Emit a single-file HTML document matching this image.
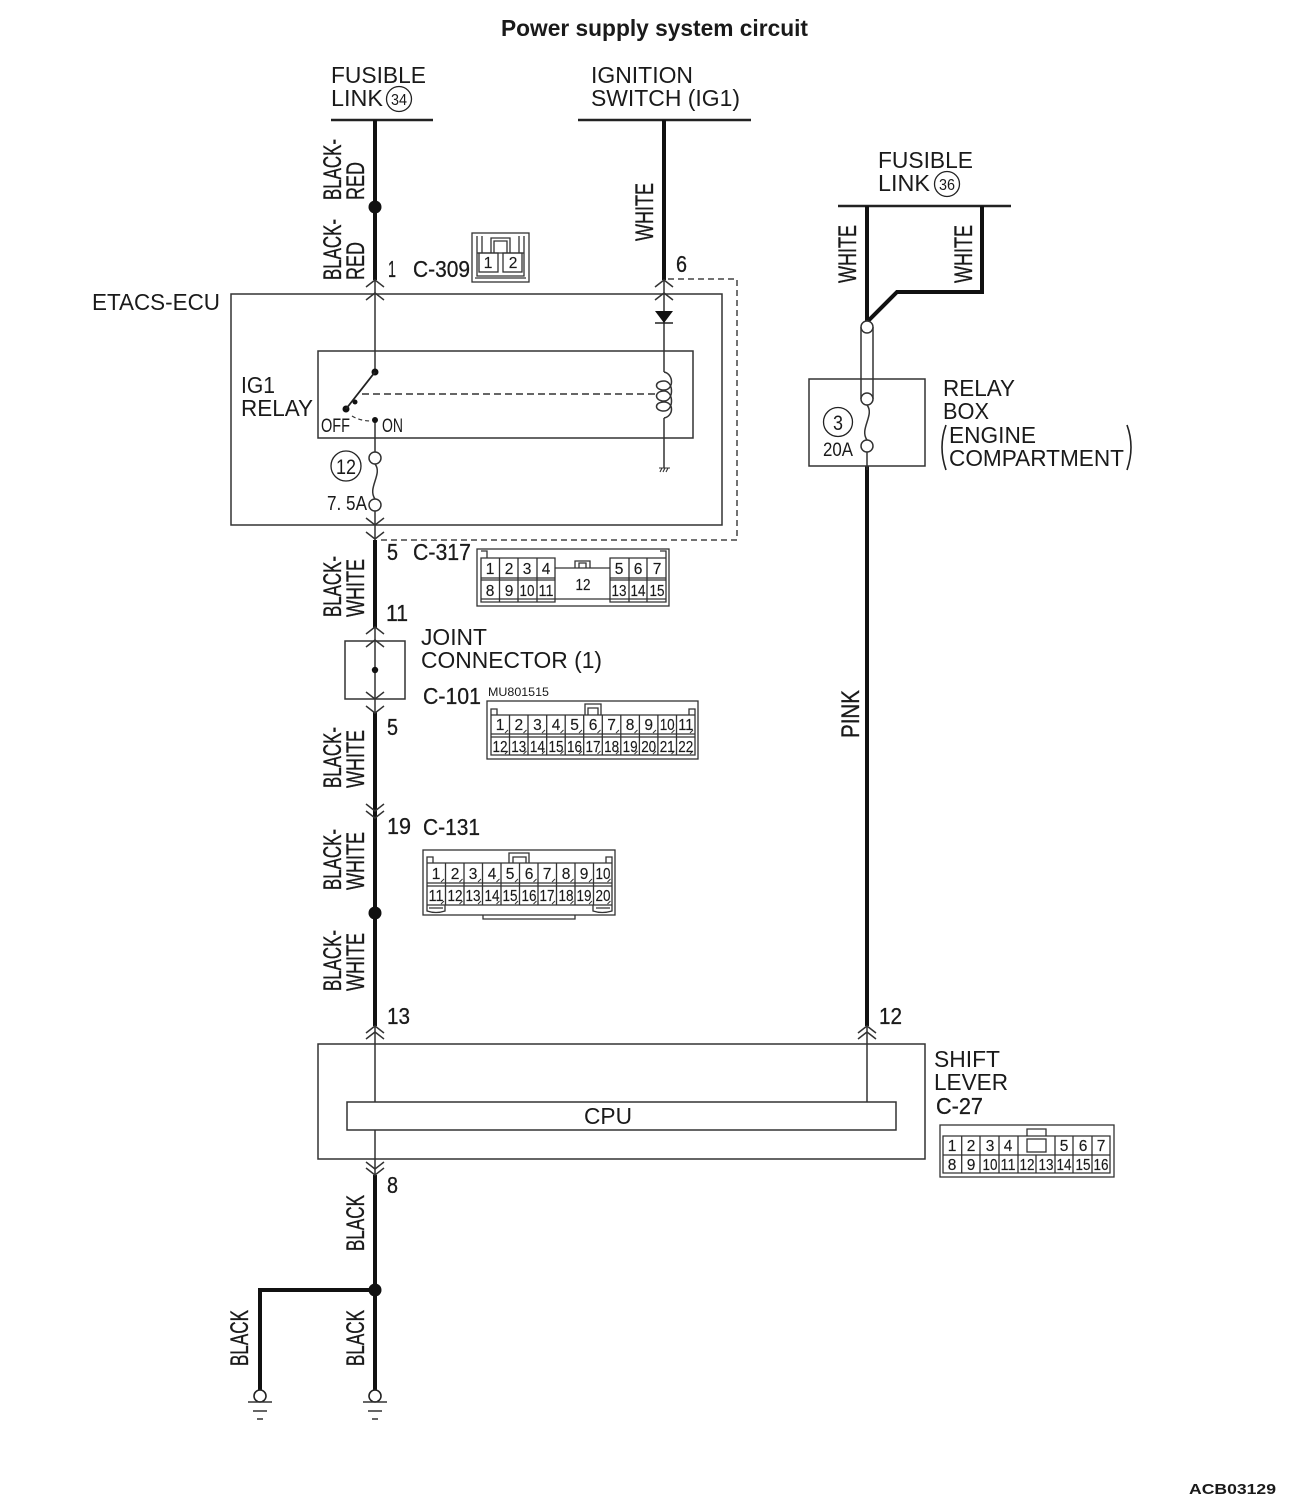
<!DOCTYPE html>
<html>
<head>
<meta charset="utf-8">
<style>
html,body{margin:0;padding:0;background:#fff}
svg{display:block}
text{font-family:"Liberation Sans",sans-serif;fill:#1a1a1a}
.l{font-size:23px}
.w{font-size:25px;stroke:#1a1a1a;stroke-width:.35px}
.n{font-size:23px;stroke:#1a1a1a;stroke-width:.3px}
.c{font-size:15.5px;text-anchor:middle;stroke:#1a1a1a;stroke-width:.15px}
.thin{fill:none;stroke:#333;stroke-width:1.5}
.box{fill:none;stroke:#333;stroke-width:1.5}
.thick{fill:none;stroke:#111;stroke-width:4}
.g{fill:none;stroke:#333;stroke-width:1.3}
</style>
</head>
<body>
<svg width="1300" height="1506" viewBox="0 0 1300 1506" xmlns="http://www.w3.org/2000/svg">
<rect width="1300" height="1506" fill="#fff"/>

<!-- Title -->
<text x="501" y="36" font-size="23" font-weight="bold" textLength="307" lengthAdjust="spacingAndGlyphs">Power supply system circuit</text>
<text x="1189" y="1494" font-size="15" font-weight="bold" textLength="87" lengthAdjust="spacingAndGlyphs">ACB03129</text>

<!-- Header bars -->
<path d="M331 120H433M578 120H751M838 206H1011" fill="none" stroke="#222" stroke-width="2.5"/>

<!-- Thick wires -->
<path class="thick" d="M375 120V280M664 120V280M375 540V628M375 712V812M375 812V1026M867 206V322L897 292H982V206M867 466V1026M375 1175V1390M375 1290H260V1390"/>
<circle cx="375" cy="207" r="6.5" fill="#111"/>
<circle cx="375" cy="913" r="6.5" fill="#111"/>
<circle cx="375" cy="1290" r="6.5" fill="#111"/>

<!-- Boxes -->
<rect class="box" x="231" y="294" width="491" height="231"/>
<rect class="box" x="318" y="351" width="375" height="87"/>
<rect class="box" x="345" y="641" width="60" height="58"/>
<rect class="box" x="809" y="379" width="116" height="87"/>
<rect class="box" x="318" y="1044" width="607" height="115"/>
<rect x="347" y="1102" width="549" height="28" fill="#fff" stroke="#333" stroke-width="1.5"/>

<!-- Thin wires -->
<path class="thin" d="M375 280V372M375 418V452M375 511V540M664 280V372M664 418V468M375 627V712M375 1026V1102M867 1026V1102M375 1130V1175M867 452V470"/>

<!-- Chevrons -->
<path class="thin" d="M366 287L375 280L384 287M366 300L375 293L384 300M655 287L664 280L673 287M655 300L664 293L673 300
M366 518L375 525L384 518M366 532L375 539L384 532
M366 634L375 627L384 634M366 647L375 640L384 647
M366 692L375 699L384 692M366 706L375 713L384 706
M366 804L375 811L384 804M366 811L375 818L384 811
M366 1033L375 1026L384 1033M366 1039L375 1032L384 1039
M858 1033L867 1026L876 1033M858 1039L867 1032L876 1039
M366 1162L375 1169L384 1162M366 1168L375 1175L384 1168"/>

<!-- Relay -->
<circle cx="375" cy="372" r="3.5" fill="#111"/>
<circle cx="346" cy="409" r="3.5" fill="#111"/>
<circle cx="355" cy="402" r="2.5" fill="#111"/>
<circle cx="375" cy="420" r="3" fill="#111"/>
<circle cx="375" cy="670" r="3.2" fill="#111"/>
<path d="M375 372L346 409" fill="none" stroke="#222" stroke-width="1.8"/>
<path d="M362 394H656" fill="none" stroke="#333" stroke-width="1.5" stroke-dasharray="7 4"/>
<path d="M352 416Q360 421 372 421" fill="none" stroke="#333" stroke-width="1.2" stroke-dasharray="4 3"/>

<!-- Coil -->
<path class="thin" d="M664 372C674 374 674 390 664 390C654 390 654 381 664 381C674 381 674 401 664 401C654 401 654 391 664 391C674 391 674 411 664 411C654 411 654 402 664 402C674 402 674 416 664 418"/>
<!-- Diode -->
<path d="M655 311H673L664 323Z" fill="#111"/>
<path d="M655 323H673" stroke="#222" stroke-width="1.5"/>
<!-- chassis ground -->
<path d="M659 468H670M660 472L662 468M663 472L665 468M666 472L668 468" fill="none" stroke="#333" stroke-width="1.1"/>

<!-- Fuses -->
<circle cx="375" cy="458" r="6" fill="#fff" stroke="#333" stroke-width="1.5"/>
<circle cx="375" cy="505" r="6" fill="#fff" stroke="#333" stroke-width="1.5"/>
<path class="thin" d="M375 464C383 474 367 488 375 499"/>
<path class="thin" d="M861 327V399M873 327V399"/>
<circle cx="867" cy="327" r="6" fill="#fff" stroke="#333" stroke-width="1.5"/>
<circle cx="867" cy="399" r="6" fill="#fff" stroke="#333" stroke-width="1.5"/>
<circle cx="867" cy="446" r="6" fill="#fff" stroke="#333" stroke-width="1.5"/>
<path class="thin" d="M867 405C875 415 859 429 867 440"/>

<!-- Dashed shield -->
<path d="M668 279H737V540H381" fill="none" stroke="#444" stroke-width="1.5" stroke-dasharray="6 4"/>

<!-- Grounds -->
<circle cx="260" cy="1396" r="6" fill="#fff" stroke="#222" stroke-width="1.6"/>
<circle cx="375" cy="1396" r="6" fill="#fff" stroke="#222" stroke-width="1.6"/>
<path d="M248 1402H272M253 1411H267M257 1419H263M363 1402H387M368 1411H382M372 1419H378" fill="none" stroke="#333" stroke-width="1.4"/>

<!-- Circled numbers -->
<circle cx="399" cy="99" r="12.5" fill="none" stroke="#222" stroke-width="1.3"/>
<text x="399" y="105" font-size="16" text-anchor="middle" textLength="16" lengthAdjust="spacingAndGlyphs">34</text>
<circle cx="947" cy="184" r="12.5" fill="none" stroke="#222" stroke-width="1.3"/>
<text x="947" y="190" font-size="16" text-anchor="middle" textLength="16" lengthAdjust="spacingAndGlyphs">36</text>
<circle cx="346" cy="466" r="15" fill="none" stroke="#222" stroke-width="1.3"/>
<text x="346" y="474" font-size="21" text-anchor="middle" textLength="20" lengthAdjust="spacingAndGlyphs">12</text>
<circle cx="838" cy="422" r="14.5" fill="none" stroke="#222" stroke-width="1.3"/>
<text x="838" y="430" font-size="21" text-anchor="middle" textLength="10" lengthAdjust="spacingAndGlyphs">3</text>

<!-- Horizontal labels -->
<text class="l" x="331" y="83" textLength="95" lengthAdjust="spacingAndGlyphs">FUSIBLE</text>
<text class="l" x="331" y="106" textLength="52" lengthAdjust="spacingAndGlyphs">LINK</text>
<text class="l" x="591" y="83" textLength="102" lengthAdjust="spacingAndGlyphs">IGNITION</text>
<text class="l" x="591" y="106" textLength="149" lengthAdjust="spacingAndGlyphs">SWITCH (IG1)</text>
<text class="l" x="878" y="168" textLength="95" lengthAdjust="spacingAndGlyphs">FUSIBLE</text>
<text class="l" x="878" y="191" textLength="52" lengthAdjust="spacingAndGlyphs">LINK</text>
<text class="l" x="92" y="310" textLength="128" lengthAdjust="spacingAndGlyphs">ETACS-ECU</text>
<text class="l" x="241" y="393" textLength="34" lengthAdjust="spacingAndGlyphs">IG1</text>
<text class="l" x="241" y="416" textLength="72" lengthAdjust="spacingAndGlyphs">RELAY</text>
<text x="321" y="432" font-size="19" textLength="29" lengthAdjust="spacingAndGlyphs">OFF</text>
<text x="382" y="432" font-size="19" textLength="21" lengthAdjust="spacingAndGlyphs">ON</text>
<text x="327" y="510" font-size="20" textLength="40" lengthAdjust="spacingAndGlyphs">7. 5A</text>
<text x="823" y="456" font-size="19" textLength="30" lengthAdjust="spacingAndGlyphs">20A</text>
<text class="l" x="943" y="396" textLength="72" lengthAdjust="spacingAndGlyphs">RELAY</text>
<text class="l" x="943" y="419" textLength="46" lengthAdjust="spacingAndGlyphs">BOX</text>
<text class="l" x="949" y="443" textLength="87" lengthAdjust="spacingAndGlyphs">ENGINE</text>
<text class="l" x="949" y="466" textLength="175" lengthAdjust="spacingAndGlyphs">COMPARTMENT</text>
<path d="M946 425Q938 447 946 470M1127 425Q1135 447 1127 470" fill="none" stroke="#222" stroke-width="1.6"/>
<text class="l" x="421" y="645" textLength="66" lengthAdjust="spacingAndGlyphs">JOINT</text>
<text class="l" x="421" y="668" textLength="181" lengthAdjust="spacingAndGlyphs">CONNECTOR (1)</text>
<text x="488" y="696" font-size="12" textLength="61" lengthAdjust="spacingAndGlyphs">MU801515</text>
<text class="l" x="934" y="1067" textLength="66" lengthAdjust="spacingAndGlyphs">SHIFT</text>
<text class="l" x="934" y="1090" textLength="74" lengthAdjust="spacingAndGlyphs">LEVER</text>
<text class="l" x="584" y="1124" textLength="48" lengthAdjust="spacingAndGlyphs">CPU</text>

<!-- Pin numbers & connector names -->
<text class="n" x="388" y="277" textLength="8" lengthAdjust="spacingAndGlyphs">1</text>
<text class="n" x="413" y="277" textLength="57" lengthAdjust="spacingAndGlyphs">C-309</text>
<text class="n" x="676" y="272" textLength="11" lengthAdjust="spacingAndGlyphs">6</text>
<text class="n" x="387" y="560" textLength="11" lengthAdjust="spacingAndGlyphs">5</text>
<text class="n" x="413" y="560" textLength="58" lengthAdjust="spacingAndGlyphs">C-317</text>
<text class="n" x="386" y="621" textLength="22" lengthAdjust="spacingAndGlyphs">11</text>
<text class="n" x="423" y="704" textLength="58" lengthAdjust="spacingAndGlyphs">C-101</text>
<text class="n" x="387" y="735" textLength="11" lengthAdjust="spacingAndGlyphs">5</text>
<text class="n" x="387" y="834" textLength="24" lengthAdjust="spacingAndGlyphs">19</text>
<text class="n" x="423" y="835" textLength="57" lengthAdjust="spacingAndGlyphs">C-131</text>
<text class="n" x="387" y="1024" textLength="23" lengthAdjust="spacingAndGlyphs">13</text>
<text class="n" x="879" y="1024" textLength="23" lengthAdjust="spacingAndGlyphs">12</text>
<text class="n" x="387" y="1193" textLength="11" lengthAdjust="spacingAndGlyphs">8</text>
<text class="n" x="936" y="1114" textLength="47" lengthAdjust="spacingAndGlyphs">C-27</text>

<!-- Rotated wire labels -->
<text class="w" transform="translate(341,200) rotate(-90)" textLength="61" lengthAdjust="spacingAndGlyphs">BLACK-</text>
<text class="w" transform="translate(364,200) rotate(-90)" textLength="38" lengthAdjust="spacingAndGlyphs">RED</text>
<text class="w" transform="translate(341,280) rotate(-90)" textLength="61" lengthAdjust="spacingAndGlyphs">BLACK-</text>
<text class="w" transform="translate(364,280) rotate(-90)" textLength="38" lengthAdjust="spacingAndGlyphs">RED</text>
<text class="w" transform="translate(653,241) rotate(-90)" textLength="58" lengthAdjust="spacingAndGlyphs">WHITE</text>
<text class="w" transform="translate(856,283) rotate(-90)" textLength="58" lengthAdjust="spacingAndGlyphs">WHITE</text>
<text class="w" transform="translate(972,283) rotate(-90)" textLength="58" lengthAdjust="spacingAndGlyphs">WHITE</text>
<text class="w" transform="translate(341,617) rotate(-90)" textLength="61" lengthAdjust="spacingAndGlyphs">BLACK-</text>
<text class="w" transform="translate(364,617) rotate(-90)" textLength="58" lengthAdjust="spacingAndGlyphs">WHITE</text>
<text class="w" transform="translate(341,788) rotate(-90)" textLength="61" lengthAdjust="spacingAndGlyphs">BLACK-</text>
<text class="w" transform="translate(364,788) rotate(-90)" textLength="58" lengthAdjust="spacingAndGlyphs">WHITE</text>
<text class="w" transform="translate(341,890) rotate(-90)" textLength="61" lengthAdjust="spacingAndGlyphs">BLACK-</text>
<text class="w" transform="translate(364,890) rotate(-90)" textLength="58" lengthAdjust="spacingAndGlyphs">WHITE</text>
<text class="w" transform="translate(341,991) rotate(-90)" textLength="61" lengthAdjust="spacingAndGlyphs">BLACK-</text>
<text class="w" transform="translate(364,991) rotate(-90)" textLength="58" lengthAdjust="spacingAndGlyphs">WHITE</text>
<text class="w" transform="translate(859,738) rotate(-90)" textLength="48" lengthAdjust="spacingAndGlyphs">PINK</text>
<text class="w" transform="translate(364,1251) rotate(-90)" textLength="56" lengthAdjust="spacingAndGlyphs">BLACK</text>
<text class="w" transform="translate(364,1366) rotate(-90)" textLength="56" lengthAdjust="spacingAndGlyphs">BLACK</text>
<text class="w" transform="translate(248,1366) rotate(-90)" textLength="56" lengthAdjust="spacingAndGlyphs">BLACK</text>

<!-- C-309 connector -->
<rect class="g" x="472" y="233" width="57" height="49"/>
<path class="g" d="M477 236V253M482 236V253M519 236V253M524 236V253M491 253V238H510V253M494 253V241H507V253M477 253H524V276H477ZM475 278H526"/>
<rect class="g" x="479" y="253" width="19" height="19"/>
<rect class="g" x="503" y="253" width="19" height="19"/>
<text class="c" x="488" y="268" font-size="15">1</text>
<text class="c" x="513" y="268" font-size="15">2</text>

<!-- C-317 connector -->
<rect class="g" x="477" y="549" width="192" height="57"/>
<path class="g" d="M481 558H555V602H481ZM610 558H666V602H610ZM481 578H555M481 580H555M610 578H666M610 580H666M499.5 558V602M518 558V602M537 558V602M629 558V602M647 558V602M555 568H610M481 599H666M575 568V561H590V568M579 568V563H586V568M481 551H487V558M660 551H666V558"/>
<text class="c" x="490" y="574">1</text><text class="c" x="509" y="574">2</text><text class="c" x="527" y="574">3</text><text class="c" x="546" y="574">4</text>
<text class="c" x="619" y="574">5</text><text class="c" x="638" y="574">6</text><text class="c" x="657" y="574">7</text>
<text class="c" x="490" y="596">8</text><text class="c" x="509" y="596">9</text>
<text class="c" x="527" y="596" textLength="15" lengthAdjust="spacingAndGlyphs">10</text><text class="c" x="546" y="596" textLength="15" lengthAdjust="spacingAndGlyphs">11</text>
<text class="c" x="583" y="590" textLength="15" lengthAdjust="spacingAndGlyphs">12</text>
<text class="c" x="619" y="596" textLength="15" lengthAdjust="spacingAndGlyphs">13</text><text class="c" x="638" y="596" textLength="15" lengthAdjust="spacingAndGlyphs">14</text><text class="c" x="657" y="596" textLength="15" lengthAdjust="spacingAndGlyphs">15</text>

<!-- C-101 connector -->
<rect class="g" x="487" y="701" width="211" height="58"/>
<path class="g" d="M491 715H695V755H491ZM491 734H695M491 737H695M509.5 715V755M528 715V755M546.7 715V755M565.2 715V755M583.7 715V755M602.3 715V755M620.8 715V755M639.4 715V755M657.9 715V755M676.5 715V755M585 715V704H601V715M588 715V708H598V715M491 715V709H497V715M689 715V709H695V715"/>
<path fill="none" stroke="#333" stroke-width="1" d="M508 730l-3 3M526.5 730l-3 3M545 730l-3 3M563.5 730l-3 3M582 730l-3 3M600.5 730l-3 3M619 730l-3 3M637.5 730l-3 3M656 730l-3 3M674.5 730l-3 3M693 730l-3 3M508 751l-3 3M526.5 751l-3 3M545 751l-3 3M563.5 751l-3 3M582 751l-3 3M600.5 751l-3 3M619 751l-3 3M637.5 751l-3 3M656 751l-3 3M674.5 751l-3 3M693 751l-3 3"/>
<text class="c" x="500" y="730">1</text><text class="c" x="518.800" y="730">2</text><text class="c" x="537.400" y="730">3</text><text class="c" x="556" y="730">4</text><text class="c" x="574.500" y="730">5</text><text class="c" x="593" y="730">6</text><text class="c" x="611.600" y="730">7</text><text class="c" x="630.100" y="730">8</text><text class="c" x="648.700" y="730">9</text>
<text class="c" x="667.200" y="730" textLength="15" lengthAdjust="spacingAndGlyphs">10</text><text class="c" x="685.800" y="730" textLength="15" lengthAdjust="spacingAndGlyphs">11</text>
<text class="c" x="500" y="752" textLength="15" lengthAdjust="spacingAndGlyphs">12</text><text class="c" x="518.800" y="752" textLength="15" lengthAdjust="spacingAndGlyphs">13</text><text class="c" x="537.400" y="752" textLength="15" lengthAdjust="spacingAndGlyphs">14</text><text class="c" x="556" y="752" textLength="15" lengthAdjust="spacingAndGlyphs">15</text><text class="c" x="574.500" y="752" textLength="15" lengthAdjust="spacingAndGlyphs">16</text><text class="c" x="593" y="752" textLength="15" lengthAdjust="spacingAndGlyphs">17</text><text class="c" x="611.600" y="752" textLength="15" lengthAdjust="spacingAndGlyphs">18</text><text class="c" x="630.100" y="752" textLength="15" lengthAdjust="spacingAndGlyphs">19</text><text class="c" x="648.700" y="752" textLength="15" lengthAdjust="spacingAndGlyphs">20</text><text class="c" x="667.200" y="752" textLength="15" lengthAdjust="spacingAndGlyphs">21</text><text class="c" x="685.800" y="752" textLength="15" lengthAdjust="spacingAndGlyphs">22</text>

<!-- C-131 connector -->
<rect class="g" x="423" y="850" width="192" height="65"/>
<path class="g" d="M427 863H612V905H427ZM427 883H612M427 886H612M445.500 863V905M464 863V905M482.500 863V905M501 863V905M519.500 863V905M538 863V905M556.500 863V905M575 863V905M593.500 863V905M509 863V853H529V863M513 863V857H526V863M427 863V857H433V863M606 863V857H612V863M427 905V911Q436 914 445 911V905M593 905V911Q602 914 612 911V905M429 908H443M596 908H610M483 915V919H575V915"/>
<path fill="none" stroke="#333" stroke-width="1" d="M444 879l-3 3M462.500 879l-3 3M481 879l-3 3M499.500 879l-3 3M518 879l-3 3M536.500 879l-3 3M555 879l-3 3M573.500 879l-3 3M592 879l-3 3M610.500 879l-3 3M444 901l-3 3M462.500 901l-3 3M481 901l-3 3M499.500 901l-3 3M518 901l-3 3M536.500 901l-3 3M555 901l-3 3M573.500 901l-3 3M592 901l-3 3M610.500 901l-3 3"/>
<text class="c" x="436" y="879">1</text><text class="c" x="455" y="879">2</text><text class="c" x="473" y="879">3</text><text class="c" x="492" y="879">4</text><text class="c" x="510" y="879">5</text><text class="c" x="529" y="879">6</text><text class="c" x="547" y="879">7</text><text class="c" x="566" y="879">8</text><text class="c" x="584" y="879">9</text>
<text class="c" x="603" y="879" textLength="15" lengthAdjust="spacingAndGlyphs">10</text>
<text class="c" x="436" y="901" textLength="15" lengthAdjust="spacingAndGlyphs">11</text><text class="c" x="455" y="901" textLength="15" lengthAdjust="spacingAndGlyphs">12</text><text class="c" x="473" y="901" textLength="15" lengthAdjust="spacingAndGlyphs">13</text><text class="c" x="492" y="901" textLength="15" lengthAdjust="spacingAndGlyphs">14</text><text class="c" x="510" y="901" textLength="15" lengthAdjust="spacingAndGlyphs">15</text><text class="c" x="529" y="901" textLength="15" lengthAdjust="spacingAndGlyphs">16</text><text class="c" x="547" y="901" textLength="15" lengthAdjust="spacingAndGlyphs">17</text><text class="c" x="566" y="901" textLength="15" lengthAdjust="spacingAndGlyphs">18</text><text class="c" x="584" y="901" textLength="15" lengthAdjust="spacingAndGlyphs">19</text><text class="c" x="603" y="901" textLength="15" lengthAdjust="spacingAndGlyphs">20</text>

<!-- C-27 connector -->
<rect class="g" x="940" y="1125" width="174" height="52"/>
<path class="g" d="M943 1136H1110V1173H943ZM943 1155H1110M961.700 1136V1173M980 1136V1173M999 1136V1173M1018 1136V1173M1036 1155V1173M1055 1136V1173M1073 1136V1173M1092 1136V1173M1027 1136V1129H1046V1136"/>
<rect class="g" x="1027" y="1139" width="19" height="13" stroke-width="1.6"/>
<text class="c" x="952" y="1151">1</text><text class="c" x="971" y="1151">2</text><text class="c" x="990" y="1151">3</text><text class="c" x="1008" y="1151">4</text>
<text class="c" x="1064" y="1151">5</text><text class="c" x="1083" y="1151">6</text><text class="c" x="1101" y="1151">7</text>
<text class="c" x="952" y="1170">8</text><text class="c" x="971" y="1170">9</text>
<text class="c" x="990" y="1170" textLength="15" lengthAdjust="spacingAndGlyphs">10</text><text class="c" x="1008" y="1170" textLength="15" lengthAdjust="spacingAndGlyphs">11</text><text class="c" x="1027" y="1170" textLength="15" lengthAdjust="spacingAndGlyphs">12</text><text class="c" x="1046" y="1170" textLength="15" lengthAdjust="spacingAndGlyphs">13</text><text class="c" x="1064" y="1170" textLength="15" lengthAdjust="spacingAndGlyphs">14</text><text class="c" x="1083" y="1170" textLength="15" lengthAdjust="spacingAndGlyphs">15</text><text class="c" x="1101" y="1170" textLength="15" lengthAdjust="spacingAndGlyphs">16</text>
</svg>
</body>
</html>
